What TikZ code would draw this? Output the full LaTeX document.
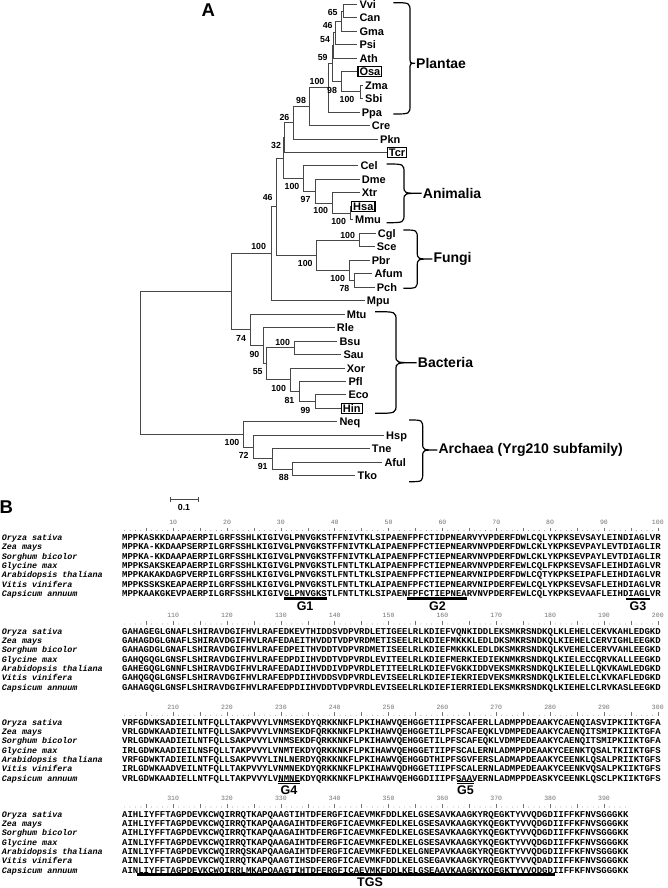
\documentclass[tikz,border=0pt]{standalone}
\usepackage{fontspec}
\setmainfont{Liberation Sans}
\newfontfamily\seqfont{Liberation Mono}
\newcommand{\grpbrace}[6]{%
  \draw[brc] (#1,#4) .. controls (#2,#4) .. (#2,#4+9) -- (#2,#5-7)
    .. controls (#2,#5) .. (#3,#5) .. controls (#2,#5) .. (#2,#5+7)
    -- (#2,#6-9) .. controls (#2,#6) .. (#1,#6);}
\tikzset{
 br/.style={draw=black!72, line width=0.9pt},
 leaf/.style={anchor=west, inner xsep=2pt, inner ysep=1pt, text height=8pt, text depth=0pt, font=\fontsize{11}{12}\selectfont\bfseries},
 boxleaf/.style={leaf, draw=black, line width=1.2pt, inner xsep=1.6pt, inner ysep=1.2pt},
 bs/.style={anchor=east, inner sep=0.5pt, text height=6.3pt, text depth=0pt, font=\fontsize{8.8}{9}\selectfont\bfseries},
 grp/.style={anchor=west, inner sep=1pt, font=\fontsize{14}{15}\selectfont\bfseries},
 brc/.style={draw=black, line width=1.2pt},
 panel/.style={font=\fontsize{18.5}{19}\selectfont\bfseries, inner sep=0pt},
 seq/.style={anchor=west, inner sep=0pt, text height=5.1pt, text depth=0pt, font=\seqfont\fontsize{8.975}{9}\selectfont\bfseries},
 spname/.style={anchor=west, inner sep=0pt, text height=5.1pt, text depth=0pt, font=\seqfont\fontsize{8.4}{9}\selectfont\bfseries\itshape},
 numlab/.style={inner sep=0pt, text height=4.2pt, text depth=0pt, text=black!55, font=\seqfont\fontsize{6.5}{7}\selectfont},
 rul/.style={draw=black!55, line width=0.5pt},
 gbar/.style={draw=black, line width=1.7pt},
 uline/.style={draw=black, line width=0.6pt},
 glab/.style={inner sep=0pt, text height=9pt, text depth=0pt, font=\fontsize{12.5}{13}\selectfont\bfseries},
}
\begin{document}
\begin{tikzpicture}[x=1pt,y=-1pt]
\useasboundingbox (0,0) rectangle (668,888);
\fill[white] (0,0) rectangle (668,888);
% ---------------- panel A ----------------
\node[panel] (pA) at (208.3,10) {A};
% leaves
\node[leaf] (Vvi) at (357.3,4.3) {Vvi};
\node[leaf] (Can) at (357.3,17.8) {Can};
\node[leaf] (Gma) at (357.3,31.2) {Gma};
\node[leaf] (Psi) at (357.3,44.7) {Psi};
\node[leaf] (Ath) at (357.3,58.2) {Ath};
\node[boxleaf] (Osa) at (357.3,71.6) {Osa};
\node[leaf] (Zma) at (363,85.1) {Zma};
\node[leaf] (Sbi) at (363,98.6) {Sbi};
\node[leaf] (Ppa) at (359.7,112.1) {Ppa};
\node[leaf] (Cre) at (369.7,125.5) {Cre};
\node[leaf] (Pkn) at (378,139.0) {Pkn};
\node[boxleaf] (Tcr) at (386.7,152.5) {Tcr};
\node[leaf] (Cel) at (358.3,165.9) {Cel};
\node[leaf] (Dme) at (359.7,179.4) {Dme};
\node[leaf] (Xtr) at (359.7,192.9) {Xtr};
\node[boxleaf] (Hsa) at (351,206.3) {Hsa};
\node[leaf] (Mmu) at (353,219.8) {Mmu};
\node[leaf] (Cgl) at (375.7,233.3) {Cgl};
\node[leaf] (Sce) at (374.7,246.8) {Sce};
\node[leaf] (Pbr) at (369.7,260.2) {Pbr};
\node[leaf] (Afum) at (372.3,273.7) {Afum};
\node[leaf] (Pch) at (374.7,287.2) {Pch};
\node[leaf] (Mpu) at (364.7,300.6) {Mpu};
\node[leaf] (Mtu) at (344.7,314.1) {Mtu};
\node[leaf] (Rle) at (334.7,327.6) {Rle};
\node[leaf] (Bsu) at (337.3,341.0) {Bsu};
\node[leaf] (Sau) at (341.3,354.5) {Sau};
\node[leaf] (Xor) at (344.7,368.0) {Xor};
\node[leaf] (Pfl) at (346.3,381.5) {Pfl};
\node[leaf] (Eco) at (346.3,394.9) {Eco};
\node[boxleaf] (Hin) at (340.7,408.4) {Hin};
\node[leaf] (Neq) at (337.3,421.9) {Neq};
\node[leaf] (Hsp) at (384,435.3) {Hsp};
\node[leaf] (Tne) at (369.7,448.8) {Tne};
\node[leaf] (Aful) at (382.3,462.3) {Aful};
\node[leaf] (Tko) at (355.4,475.8) {Tko};
% internal nodes
\coordinate (nVC) at (343.3,11.05);
\coordinate (nVCG) at (341.5,21.1);
\coordinate (nPsi) at (335,32.9);
\coordinate (nAth) at (333.7,45.6);
\coordinate (nZS) at (360.7,91.85);
\coordinate (nOZS) at (341.7,81.7);
\coordinate (nAng) at (332.5,63.6);
\coordinate (nPpa) at (328.3,87.85);
\coordinate (nCre) at (309.3,106.7);
\coordinate (nPkn) at (293.3,122.8);
\coordinate (nTcr) at (284.5,137.6);
\coordinate (nHM) at (350,213.1);
\coordinate (nXtr) at (332.7,203);
\coordinate (nDme) at (315,191.2);
\coordinate (nCel) at (303.3,178.5);
\coordinate (nAn) at (283.3,158);
\coordinate (nCS) at (359.3,240);
\coordinate (nAP) at (354,280.5);
\coordinate (nPAP) at (349,270.3);
\coordinate (nFun) at (316,255.2);
\coordinate (n46) at (276.7,206.6);
\coordinate (nMpu) at (271.7,253.6);
\coordinate (nBS) at (294,347.8);
\coordinate (nEH) at (315,401.7);
\coordinate (nPfl) at (299,391.6);
\coordinate (nXor) at (290.7,379.8);
\coordinate (n55) at (266.7,363.8);
\coordinate (n90) at (263.3,345.7);
\coordinate (n74) at (250,329.9);
\coordinate (nEuk) at (231.7,291.75);
\coordinate (nAT) at (292.7,469);
\coordinate (n91) at (272.7,458.9);
\coordinate (n72) at (253.3,447.1);
\coordinate (n100a) at (243.3,434.5);
\coordinate (root) at (140,363.1);
% branches
\draw[br] (nVC) |- (Vvi.west); \draw[br] (nVC) |- (Can.west);
\draw[br] (nVCG) |- (nVC); \draw[br] (nVCG) |- (Gma.west);
\draw[br] (nPsi) |- (nVCG); \draw[br] (nPsi) |- (Psi.west);
\draw[br] (nAth) |- (nPsi); \draw[br] (nAth) |- (Ath.west);
\draw[br] (nZS) |- (Zma.west); \draw[br] (nZS) |- (Sbi.west);
\draw[br] (nOZS) |- (Osa.west); \draw[br] (nOZS) |- (nZS);
\draw[br] (nAng) |- (nAth); \draw[br] (nAng) |- (nOZS);
\draw[br] (nPpa) |- (nAng); \draw[br] (nPpa) |- (Ppa.west);
\draw[br] (nCre) |- (nPpa); \draw[br] (nCre) |- (Cre.west);
\draw[br] (nPkn) |- (nCre); \draw[br] (nPkn) |- (Pkn.west);
\draw[br] (nTcr) |- (nPkn); \draw[br] (nTcr) |- (Tcr.west);
\draw[br] (nHM) |- (Hsa.west); \draw[br] (nHM) |- (Mmu.west);
\draw[br] (nXtr) |- (Xtr.west); \draw[br] (nXtr) |- (nHM);
\draw[br] (nDme) |- (Dme.west); \draw[br] (nDme) |- (nXtr);
\draw[br] (nCel) |- (Cel.west); \draw[br] (nCel) |- (nDme);
\draw[br] (nAn) |- (nTcr); \draw[br] (nAn) |- (nCel);
\draw[br] (nCS) |- (Cgl.west); \draw[br] (nCS) |- (Sce.west);
\draw[br] (nAP) |- (Afum.west); \draw[br] (nAP) |- (Pch.west);
\draw[br] (nPAP) |- (Pbr.west); \draw[br] (nPAP) |- (nAP);
\draw[br] (nFun) |- (nCS); \draw[br] (nFun) |- (nPAP);
\draw[br] (n46) |- (nAn); \draw[br] (n46) |- (nFun);
\draw[br] (nMpu) |- (n46); \draw[br] (nMpu) |- (Mpu.west);
\draw[br] (nBS) |- (Bsu.west); \draw[br] (nBS) |- (Sau.west);
\draw[br] (nEH) |- (Eco.west); \draw[br] (nEH) |- (Hin.west);
\draw[br] (nPfl) |- (Pfl.west); \draw[br] (nPfl) |- (nEH);
\draw[br] (nXor) |- (Xor.west); \draw[br] (nXor) |- (nPfl);
\draw[br] (n55) |- (nBS); \draw[br] (n55) |- (nXor);
\draw[br] (n90) |- (Rle.west); \draw[br] (n90) |- (n55);
\draw[br] (n74) |- (Mtu.west); \draw[br] (n74) |- (n90);
\draw[br] (nEuk) |- (nMpu); \draw[br] (nEuk) |- (n74);
\draw[br] (nAT) |- (Aful.west); \draw[br] (nAT) |- (Tko.west);
\draw[br] (n91) |- (Tne.west); \draw[br] (n91) |- (nAT);
\draw[br] (n72) |- (Hsp.west); \draw[br] (n72) |- (n91);
\draw[br] (n100a) |- (Neq.west); \draw[br] (n100a) |- (n72);
\draw[br] (root) |- (nEuk); \draw[br] (root) |- (n100a);
% bootstrap values
\node[bs] (b1) at (338.3,12.3) {65};
\node[bs] (b2) at (333.3,25.7) {46};
\node[bs] (b3) at (330.7,39) {54};
\node[bs] (b4) at (328.3,57.7) {59};
\node[bs] (b5) at (355,99.3) {100};
\node[bs] (b6) at (337.7,90) {98};
\node[bs] (b7) at (325,81.7) {100};
\node[bs] (b8) at (306.7,100.7) {98};
\node[bs] (b9) at (290,117.3) {26};
\node[bs] (b10) at (281.7,145) {32};
\node[bs] (b11) at (300,186.3) {100};
\node[bs] (b12) at (311.2,199.3) {97};
\node[bs] (b13) at (328.8,210.7) {100};
\node[bs] (b14) at (346.7,221) {100};
\node[bs] (b15) at (273.3,197.3) {46};
\node[bs] (b16) at (355.7,235) {100};
\node[bs] (b17) at (313.3,263.3) {100};
\node[bs] (b18) at (345.7,278.3) {100};
\node[bs] (b19) at (350,288.3) {78};
\node[bs] (b20) at (266.7,246) {100};
\node[bs] (b21) at (246.7,338.3) {74};
\node[bs] (b22) at (290.7,342.7) {100};
\node[bs] (b23) at (260,354.3) {90};
\node[bs] (b24) at (263.3,371.7) {55};
\node[bs] (b25) at (286.7,388.3) {100};
\node[bs] (b26) at (295,400) {81};
\node[bs] (b27) at (311,410) {99};
\node[bs] (b28) at (240,442.7) {100};
\node[bs] (b29) at (249.3,455) {72};
\node[bs] (b30) at (268.3,466.7) {91};
\node[bs] (b31) at (289.4,477) {88};
% group braces and labels
\grpbrace{393.3}{410}{415}{2.7}{63.3}{114}
\node[grp] (gPl) at (415,63.3) {Plantae};
\grpbrace{386.7}{404}{421.7}{164}{193.3}{222.7}
\node[grp] (gAn) at (421.7,193.3) {Animalia};
\grpbrace{403.3}{417.3}{432.3}{230}{259}{288.3}
\node[grp] (gFu) at (432.3,259) {Fungi};
\grpbrace{375}{396}{416.7}{311.7}{362.7}{413.3}
\node[grp] (gBa) at (416.7,362.7) {Bacteria};
\grpbrace{409}{422.7}{437.3}{420}{450}{481.7}
\node[grp] (gAr) at (437.3,450) {Archaea (Yrg210 subfamily)};
% scale bar
\coordinate (sb1) at (170,499.3); \coordinate (sb2) at (198,499.3);
\draw[black!72, line width=0.8pt] (sb1) -- (sb2);
\draw[black!72, line width=0.8pt] (170,497) -- (170,501.6) (198,497) -- (198,501.6);
\node[bs, anchor=center] (sbl) at (184,507.5) {0.1};
% ---------------- panel B ----------------
\node[panel] (pB) at (6.4,506.7) {B};
\foreach \b/\by/\nres/\nlab in {1/522.4/100/10, 2/615.8/100/10, 3/707/100/10, 4/798.8/94/9} {
  \foreach \i in {1,...,\nres} {
    \pgfmathsetmacro\xx{122+(\i-0.5)*5.385}
    \pgfmathtruncatemacro\mm{mod(\i,5)}
    \ifnum\mm=0
      \draw[rul] (\xx,\by+5.2) -- (\xx,\by+8.8);
    \else
      \fill[black!55] (\xx,\by+8.2) circle (0.42);
    \fi
  }
  \foreach \j in {1,...,\nlab} {
    \pgfmathtruncatemacro\lab{(\b-1)*100+\j*10}
    \node[numlab] (nl\b-\j) at ({122+(\j*10-0.5)*5.385},\by) {\lab};
  }
  \foreach \k/\nm in {0/Oryza sativa,1/Zea mays,2/Sorghum bicolor,3/Glycine max,4/Arabidopsis thaliana,5/Vitis vinifera,6/Capsicum annuum} {
    \node[spname] (sp\b-\k) at (1.7,\by+15.7+9.33*\k) {\nm};
  }
}
% block 1
\foreach \k/\sq in {
0/MPPKASKKDAAPAERPILGRFSSHLKIGIVGLPNVGKSTFFNIVTKLSIPAENFPFCTIDPNEARVYVPDERFDWLCQLYKPKSEVSAYLEINDIAGLVR,
1/MPPKA-KKDAAPSERPILGRFSSHLKIGIVGLPNVGKSTFFNIVTKLAIPAENFPFCTIEPNEARVNVPDERFDWLCKLYKPKSEVPAYLEVTDIAGLIR,
2/MPPKA-KKDAAPAERPILGRFSSHLKIGIVGLPNVGKSTFFNIVTKLAIPAENFPFCTIEPNEARVNVPDERFDWLCKLYKPKSEVPAYLEVTDIAGLIR,
3/MPPKSAKSKEAPAERPILGRFSSHLKIGIVGLPNVGKSTLFNTLTKLAIPAENFPFCTIEPNEARVNVPDERFEWLCQLFKPKSEVSAFLEIHDIAGLVR,
4/MPPKAKAKDAGPVERPILGRFSSHLKIGIVGLPNVGKSTLFNTLTKLSIPAENFPFCTIEPNEARVNIPDERFDWLCQTYKPKSEIPAFLEIHDIAGLVR,
5/MPPKSSKSKEAPAERPILGRFSSHLKIGIVGLPNVGKSTLFNTLTKLAIPAENFPFCTIEPNEARVNIPDERFEWLCQLYKPKSEVSAFLEIHDIAGLVR,
6/MPPKAAKGKEVPAERPILGRFSSHLKIGIVGLPNVGKSTLFNTLTKLSIPAENFPFCTIEPNEARVNVPDERFEWLCQLYKPKSEVAAFLEIHDIAGLVR} {
  \node[seq] (s1-\k) at (122,522.4+15.7+9.33*\k) {\sq};
}
% block 2
\foreach \k/\sq in {
0/GAHAGEGLGNAFLSHIRAVDGIFHVLRAFEDKEVTHIDDSVDPVRDLETIGEELRLKDIEFVQNKIDDLEKSMKRSNDKQLKLEHELCEKVKAHLEDGKD,
1/GAHAGDGLGNAFLSHIRAVDGIFHVLRAFEDAEITHVDDTVDPVRDMETISEELRLKDIEFMKKKLEDLDKSMKRSNDKQLKIEHELCERVIGHLEEGKD,
2/GAHAGDGLGNAFLSHIRAVDGIFHVLRAFEDPEITHVDDTVDPVRDMETISEELRLKDIEFMKKKLEDLDKSMKRSNDKQLKVEHELCERVVAHLEEGKD,
3/GAHQGQGLGNSFLSHIRAVDGIFHVLRAFEDPDIIHVDDTVDPVRDLEVITEELRLKDIEFMERKIEDIEKNMKRSNDKQLKIELECCQRVKALLEEGKD,
4/GAHEGQGLGNNFLSHIRAVDGIFHVLRAFEDADIIHVDDIVDPVRDLETITEELRLKDIEFVGKKIDDVEKSMKRSNDKQLKIELELLQKVKAWLEDGKD,
5/GAHQGQGLGNSFLSHIRAVDGIFHVLRAFEDPDIIHVDDSVDPVRDLEVISEELRLKDIEFIEKRIEDVEKSMKRSNDKQLKIELELCLKVKAFLEDGKD,
6/GAHAGQGLGNSFLSHIRAVDGIFHVLRAFEDPDIIHVDDTVDPVRDLEVISEELRLKDIEFIERRIEDLEKSMKRSNDKQLKIEHELCLRVKASLEEGKD} {
  \node[seq] (s2-\k) at (122,615.8+15.7+9.33*\k) {\sq};
}
% block 3
\foreach \k/\sq in {
0/VRFGDWKSADIEILNTFQLLTAKPVVYLVNMSEKDYQRKKNKFLPKIHAWVQEHGGETIIPFSCAFERLLADMPPDEAAKYCAENQIASVIPKIIKTGFA,
1/VRLGDWKAADIEILNTFQLLSAKPVVYLVNMSEKDFQRKKNKFLPKIHAWVQEHGGETILPFSCAFEQKLVDMPEDEAAKYCAENQITSMIPKIIKTGFA,
2/VRLGDWKAADIEILNTFQLLSAKPVVYLVNMSEKDFQRKKNKFLPKIHAWVQEHGGETILPFSCAFEQKLVDMPEDEAAKYCAENQITSMIPKIIKTGFA,
3/IRLGDWKAADIEILNSFQLLTAKPVVYLVNMTEKDYQRKKNKFLPKIHAWVQEHGGETIIPFSCALERNLADMPPDEAAKYCEENKTQSALTKIIKTGFS,
4/VRFGDWKTADIEILNTFQLLSAKPVVYLINLNERDYQRKKNKFLPKIHAWVQEHGGDTHIPFSGVFERSLADMAPDEAAKYCEENKLQSALPRIIKTGFS,
5/IRLGDWKAADVEILNTFQLLTAKPVVYLVNMNEKDYQRKKNKFLPKIHAWVQDHGGETIIPFSCALERNLADMPEDEAAKYCEENKVQSALPKIIKTGFS,
6/VRLGDWKAADIELLNTFQLLTAKPVVYLVNMNEKDYQRKKNKFLPKIHAWVQEHGGDIIIPFSAAVERNLADMPPDEASKYCEENKLQSCLPKIIKTGFS} {
  \node[seq] (s3-\k) at (122,707+15.7+9.33*\k) {\sq};
}
% block 4
\foreach \k/\sq in {
0/AIHLIYFFTAGPDEVKCWQIRRQTKAPQAAGTIHTDFERGFICAEVMKFDDLKELGSESAVKAAGKYRQEGKTYVVQDGDIIFFKFNVSGGGKK,
1/AIHLIYFFTAGPDEVKCWQIRRQTKAPQAAGAIHTDFERGFICAEVMKFEDLKELGSESAVKAAGKYKQEGKTYVVQDGDIIFFKFNVSGGGKK,
2/AIHLIYFFTAGPDEVKCWQIRRQTKAPQAAGAIHTDFERGFICAEVMKFEDLKELGSESAVKAAGKYKQEGKTYVVQDGDIIFFKFNVSGGGKK,
3/AINLIYFFTAGPDEVKCWQIRRQTKAPQAAGAIHTDFERGFICAEVMKFEDLKELGSESAVKAAGKYKQEGKTYVVQDGDIIFFKFNVSGGGKK,
4/AINLIYFFTAGPDEVKCWQIRRQSKAPQAAGAIHTDFERGFICAEVMKFEDLKELGNEPAVKAAGKYRQEGKTYVVQDGDIIFFKFNVSGGGKK,
5/AINLIYFFTAGPDEVKCWQIRRQTKAPQAAGTIHSDFERGFICAEVMKFDDLKELGSEGAVKAAGKYRQEGKTYVVQDADIIFFKFNVSGGGKK,
6/AINLIYFFTAGPDEVKCWQIRRLMKAPQAAGTIHTDFERGFICAEVMKFDDLKELGSEAAVKAAGKYKQEGKTYVVQDGDIIFFKFNVSGGGKK} {
  \node[seq] (s4-\k) at (122,798.8+15.7+9.33*\k) {\sq};
}
% motif underlines, bars and labels
\draw[uline] (283.6,597.1) -- (326.6,597.1);
\draw[gbar] (283.6,599) -- (326.6,599);
\node[glab] (G1) at (305.1,605.6) {G1};
\draw[uline] (407.4,597.1) -- (466.6,597.1);
\draw[gbar] (407.4,599) -- (466.6,599);
\node[glab] (G2) at (437.5,605.6) {G2};
\draw[gbar] (625.5,599) -- (649.7,599);
\node[glab] (G3) at (638,605.6) {G3};
\draw[uline] (278.2,781.7) -- (299.7,781.7);
\draw[gbar] (278.2,783.6) -- (299.7,783.6);
\node[glab] (G4) at (289,790) {G4};
\draw[uline] (457,781.7) -- (474,781.7);
\draw[gbar] (457,783.6) -- (474,783.6);
\node[glab] (G5) at (465.5,790) {G5};
\draw[uline] (137,873.1) -- (555,873.1);
\draw[gbar] (137,875) -- (555,875);
\node[glab] (TGS) at (370,881.5) {TGS};
\end{tikzpicture}
\end{document}
